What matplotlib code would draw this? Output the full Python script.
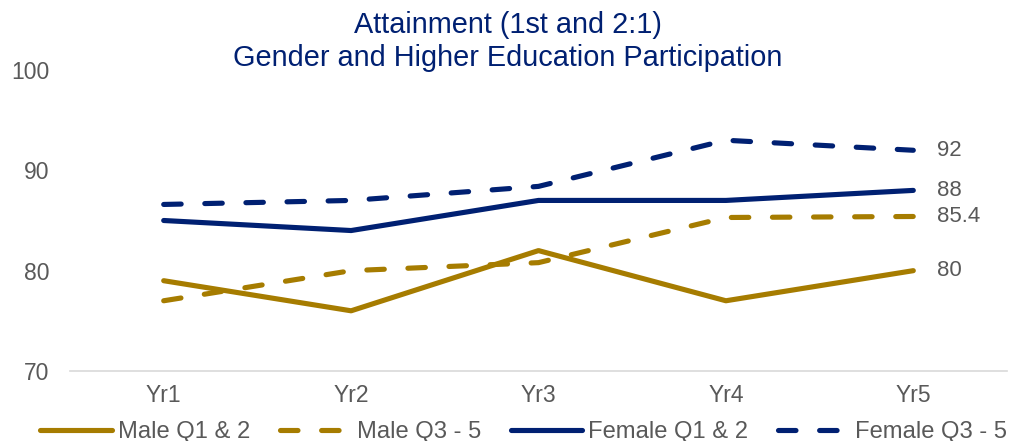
import matplotlib
matplotlib.use('Agg')
import matplotlib.pyplot as plt

years = ['Yr1', 'Yr2', 'Yr3', 'Yr4', 'Yr5']
male_q12 = [79, 76, 82, 77, 80]
male_q35 = [77, 80, 80.8, 85.3, 85.4]
female_q12 = [85, 84, 87, 87, 88]
female_q35 = [86.6, 87, 88.4, 93, 92]
end_labels = ['80', '85.4', '88', '92']

gold = '#A67C00'
navy = '#002072'
grey = '#595959'

plt.rcParams['font.family'] = ['Liberation Sans', 'DejaVu Sans']

fig = plt.figure(figsize=(10.15, 4.41), dpi=100)
ax = fig.add_axes([70 / 1015, 1 - 371 / 441, 937 / 1015, 301 / 441])

x = list(range(len(years)))
lw = 3.7
dash = (3.4, 4.6)
ax.plot(x, male_q12, color=gold, lw=lw, solid_capstyle='round', label='Male Q1 & 2')
ax.plot(x, male_q35, color=gold, lw=lw, dashes=dash, dash_capstyle='round', label='Male Q3 - 5')
ax.plot(x, female_q12, color=navy, lw=lw, solid_capstyle='round', label='Female Q1 & 2')
ax.plot(x, female_q35, color=navy, lw=lw, dashes=dash, dash_capstyle='round', label='Female Q3 - 5')

for series, lab in zip([male_q12, male_q35, female_q12, female_q35], end_labels):
    ax.annotate(lab, (x[-1], series[-1]), xytext=(17, 0), textcoords='offset points',
                va='center', ha='left', fontsize=16, color=grey)

ax.set_xlim(-0.5, 4.5)
ax.set_ylim(70, 100)
ax.set_yticks([70, 80, 90, 100])
ax.set_xticks(x)
ax.set_xticklabels(years)
ax.tick_params(axis='both', length=0, labelsize=16.5, labelcolor=grey)
ax.tick_params(axis='y', pad=15)
ax.tick_params(axis='x', pad=9)
for s in ['top', 'right', 'left']:
    ax.spines[s].set_visible(False)
ax.spines['bottom'].set_color('#D9D9D9')
ax.spines['bottom'].set_linewidth(1.2)

fig.text(0.5, 0.975, 'Attainment (1st and 2:1)\nGender and Higher Education Participation',
         ha='center', va='top', fontsize=20.8, color=navy, linespacing=1.22)

leg = fig.legend(loc='center', bbox_to_anchor=(0.516, 1 - 432 / 441), ncol=4, frameon=False,
                 fontsize=17.1, labelcolor=grey, handlelength=3.0, handletextpad=0.25,
                 columnspacing=1.25, borderpad=0, borderaxespad=0)

fig.savefig('out.png', dpi=100)
